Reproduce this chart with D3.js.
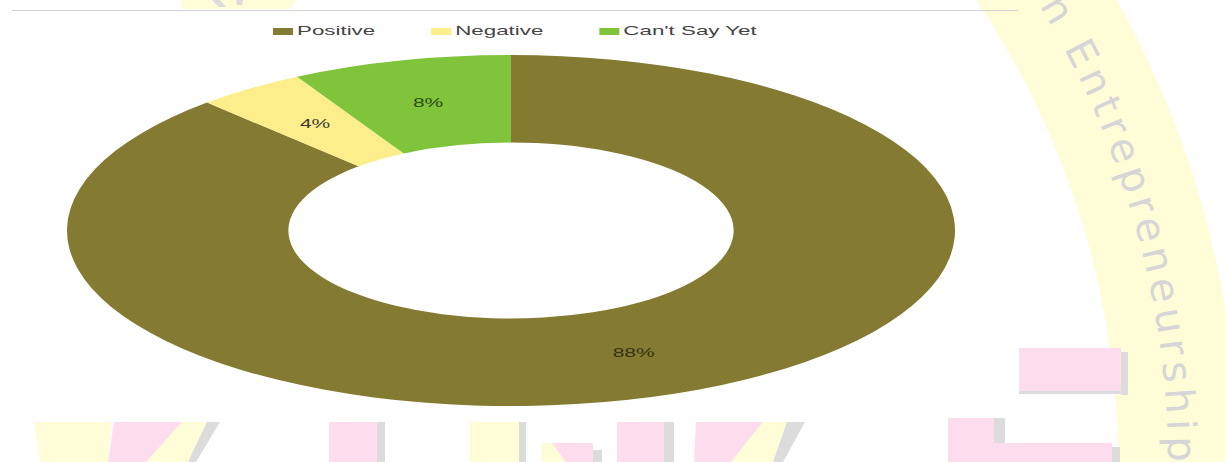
<!DOCTYPE html>
<html>
<head>
<meta charset="utf-8">
<script src="https://cdn.jsdelivr.net/npm/d3@7"></script>
<style>
  html, body { margin: 0; padding: 0; background: #ffffff; }
  svg { display: block; }
  text { font-family: "Liberation Sans", Arial, sans-serif; }
</style>
</head>
<body>
<svg id="chart" width="1225" height="462"></svg>
<script>
// Survey responses (percent of respondents)
const categories = ["Positive", "Negative", "Can't Say Yet"];
const values = [88, 4, 8];
const colors = ["#857a31", "#fdee8c", "#7fc43b"];

const W = 1225, H = 462;
const svg = d3.select("#chart");

// ---- faint background watermark (seal ring + large letter blocks) ----
const wm = svg.append("g").attr("class", "watermark");
const pink = "#fddcee", cream = "#fffcd8", shade = "#dcdcdc";

// header rule
svg.append("line")
  .attr("x1", 12).attr("x2", 1018).attr("y1", 10.5).attr("y2", 10.5)
  .attr("stroke", "#d2d2d2").attr("stroke-width", 1.2);

// ring band on the right
const ringC = [288, 464];
const ring = d3.arc().innerRadius(830).outerRadius(950)
  .startAngle(0.6).endAngle(1.8);
wm.append("path")
  .attr("transform", `translate(${ringC})`)
  .attr("d", ring())
  .attr("fill", cream);

// small cream patch near the top edge
wm.append("path")
  .attr("d", "M180,0 L296,0 L290,9 L183,9 Z")
  .attr("fill", cream);
wm.append("path").attr("d", "M212,0 L220,0 L226,7 L219,7 Z").attr("fill", shade);
wm.append("path").attr("d", "M236,0 L243,0 L242,5 L237,5 Z").attr("fill", shade);

// ring lettering, laid along the band
const baseR = 880;
const textArc = d3.path();
textArc.arc(ringC[0], ringC[1], baseR, -Math.PI / 2, Math.PI * 0.6);
wm.append("defs").append("path").attr("id", "ringPath").attr("d", textArc.toString());
wm.append("text")
  .style("font-family", "'DejaVu Sans', sans-serif")
  .style("font-size", "40px")
  .attr("fill", "#d6d6d6")
  .attr("textLength", 480)
  .attr("lengthAdjust", "spacing")
  .append("textPath")
  .attr("href", "#ringPath")
  .attr("startOffset", 58.6 * Math.PI / 180 * baseR)
  .text("n Entrepreneurship");

// letter blocks along the bottom edge
const blocks = [
  ["M34,422 L111,422 L108,462 L40,462 Z", cream],
  ["M114,422 L182,422 L146,462 L108,462 Z", pink],
  ["M182,422 L207,422 L190,462 L146,462 Z", cream],
  ["M207,422 L220,422 L196,462 L188,462 Z", shade],
  ["M329,422 L377,422 L377,462 L329,462 Z", pink],
  ["M377,422 L385,422 L385,462 L377,462 Z", shade],
  ["M470,422 L519,422 L519,462 L470,462 Z", cream],
  ["M519,422 L526,422 L526,462 L519,462 Z", shade],
  ["M542,443 L593,443 L593,462 L560,462 Z", pink],
  ["M542,443 L552,443 L566,462 L542,462 Z", cream],
  ["M593,450 L602,450 L602,462 L593,462 Z", shade],
  ["M617,422 L664,422 L664,462 L617,462 Z", pink],
  ["M664,422 L674,422 L674,462 L664,462 Z", shade],
  ["M696,422 L763,422 L731,462 L694,462 Z", pink],
  ["M763,422 L787,422 L773,462 L731,462 Z", cream],
  ["M787,422 L805,422 L783,462 L773,462 Z", shade],
  ["M948,418 L994,418 L994,462 L948,462 Z", pink],
  ["M994,418 L1005,418 L1005,443 L994,443 Z", shade],
  ["M994,443 L1112,443 L1112,462 L994,462 Z", pink],
  ["M1112,447 L1120,447 L1120,462 L1112,462 Z", shade],
  ["M1019,348 L1121,348 L1121,391 L1019,391 Z", pink],
  ["M1121,352 L1128,352 L1128,395 L1121,395 Z", shade],
  ["M1019,391 L1128,391 L1128,394 L1019,394 Z", shade]
];
wm.selectAll("path.block").data(blocks).join("path")
  .attr("class", "block")
  .attr("d", d => d[0]).attr("fill", d => d[1]);

// ---- donut chart ----
const cx = 511, cy = 230.5;
const outerR = 175.5, innerR = 88;
const stretchX = 2.53;           // the ring is drawn as an ellipse

const pie = d3.pie().sort(null).value(d => d.value);
const arcs = pie(categories.map((c, i) => ({ name: c, value: values[i], color: colors[i] })));
const arc = d3.arc().innerRadius(innerR).outerRadius(outerR);

const donut = svg.append("g")
  .attr("transform", `translate(${cx},${cy}) scale(${stretchX},1)`);
donut.selectAll("path.slice").data(arcs).join("path")
  .attr("class", "slice")
  .attr("d", arc)
  .attr("fill", d => d.data.color);

// percentage labels at each slice's centroid
const textScale = 1.75;
const labelColors = ["#35300f", "#3d3b30", "#2c4a12"];
const total = d3.sum(values);
svg.append("g").selectAll("text").data(arcs).join("text")
  .attr("transform", d => {
    const [x, y] = arc.centroid(d);
    return `translate(${cx + x * stretchX},${cy + y}) scale(${textScale},1)`;
  })
  .attr("text-anchor", "middle")
  .attr("dy", "0.35em")
  .attr("font-size", 12)
  .attr("fill", (d, i) => labelColors[i])
  .text(d => Math.round(d.data.value / total * 100) + "%");

// ---- legend ----
const legend = svg.append("g");
let lx = 273;
const legendScale = 1.72;
categories.forEach((c, i) => {
  const item = legend.append("g").attr("transform", `translate(${lx},0)`);
  item.append("rect")
    .attr("x", 0).attr("y", 28).attr("width", 20).attr("height", 7)
    .attr("fill", colors[i]);
  const t = item.append("text")
    .attr("transform", `translate(24,35) scale(${legendScale},1)`)
    .attr("font-size", 13)
    .attr("fill", "#444")
    .text(c);
  const tw = t.node().getComputedTextLength() * legendScale;
  lx += 24 + tw + 56;
});
</script>
</body>
</html>
